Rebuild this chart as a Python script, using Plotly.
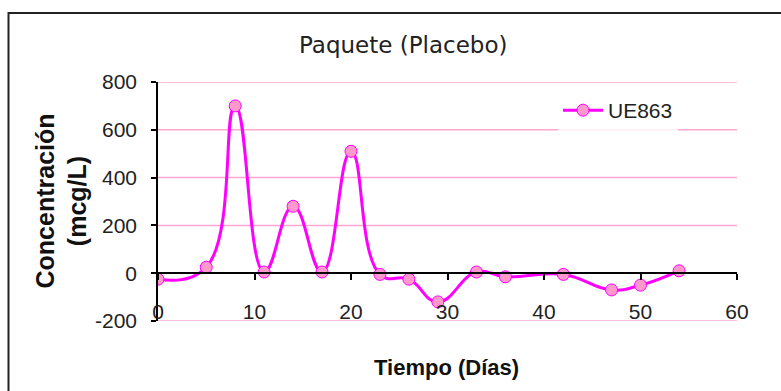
import plotly.graph_objects as go

# Sampling days and measured concentration (mcg/L)
dias = [0, 5, 8, 11, 14, 17, 20, 23, 26, 29, 33, 36, 42, 47, 50, 54]
ue863 = [-25, 25, 700, 5, 280, 5, 510, -5, -25, -120, 5, -15, -5, -70, -50, 10]

y_ticks = [-200, 0, 200, 400, 600, 800]
y_labels = ["-200", "0", "200", "400", "600", "800"]
x_ticks = [0, 10, 20, 30, 40, 50, 60]

W, H = 781, 391
L, R, T, B = 158, 44, 82, 70
pw, ph = W - L - R, H - T - B

fig = go.Figure()
fig.add_trace(go.Scatter(
    x=dias, y=ue863, name="UE863", mode="lines+markers",
    line=dict(color="#FF00FF", width=3, shape="spline", smoothing=1.3),
    marker=dict(size=12, color="#FF99CC", line=dict(color="#FF00FF", width=1)),
))

tick_font = dict(family="Liberation Sans, Arial, sans-serif", size=21, color="#222")

# Horizontal pink gridlines at every y tick, including the range edges
grid = [dict(type="line", xref="paper", yref="y", x0=0, x1=1, y0=v, y1=v,
             line=dict(color="#FFA6D2", width=1.5), layer="below")
        for v in y_ticks if v != 0]

frame = dict(
    type="rect", xref="paper", yref="paper",
    x0=(8.5 - L) / pw, x1=(W + 20 - L) / pw,
    y0=(H - B - (H + 20)) / ph, y1=(H - B - 13) / ph,
    line=dict(color="#222", width=2), fillcolor="rgba(0,0,0,0)", layer="below",
)

fig.update_layout(
    width=W, height=H,
    margin=dict(l=L, r=R, t=T, b=B),
    paper_bgcolor="white", plot_bgcolor="white",
    showlegend=True,
    legend=dict(
        x=(558 - L) / pw, y=1 - 8 / ph, xanchor="left", yanchor="top",
        itemwidth=40,
        bgcolor="rgba(255,255,255,0.8)", borderwidth=0,
        font=dict(family="Liberation Sans, Arial, sans-serif", size=21, color="#222"),
    ),
    xaxis=dict(
        range=[0, 60], tickvals=x_ticks, showgrid=False, zeroline=False,
        anchor="free", position=0.2,
        showline=True, linecolor="black", linewidth=1.5,
        ticks="outside", ticklen=6, tickcolor="black", tickwidth=1.5,
        ticklabelstandoff=14, tickfont=tick_font,
    ),
    yaxis=dict(
        range=[-200, 800], tickvals=y_ticks, ticktext=y_labels, zeroline=False,
        showgrid=False,
        showline=True, linecolor="black", linewidth=1.5,
        ticks="outside", ticklen=5, tickcolor="black", tickwidth=1.5,
        ticklabelstandoff=10, tickfont=tick_font,
    ),
    shapes=[frame] + grid,
    annotations=[
        dict(text="Paquete (Placebo)", xref="paper", yref="paper",
             x=(403 - L) / pw, y=(H - B - 45) / ph, xanchor="center", yanchor="middle",
             showarrow=False,
             font=dict(family="DejaVu Sans, sans-serif", size=23, color="#222")),
        dict(text="<b>Concentración<br>(mcg/L)</b>", xref="paper", yref="paper",
             x=(61 - L) / pw, y=0.5, xanchor="center", yanchor="middle",
             textangle=-90, showarrow=False,
             font=dict(family="Liberation Sans, Arial, sans-serif", size=25, color="#111")),
        dict(text="<b>Tiempo (Días)</b>", xref="paper", yref="paper",
             x=(446 - L) / pw, y=(H - B - 367) / ph, xanchor="center", yanchor="middle",
             showarrow=False,
             font=dict(family="Liberation Sans, Arial, sans-serif", size=22, color="#111")),
    ],
)

fig.write_html("out.html")
